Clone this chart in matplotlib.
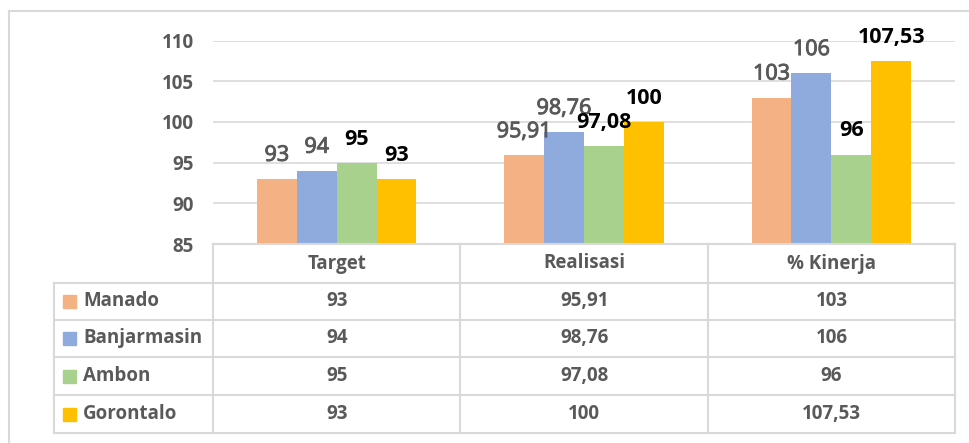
import matplotlib
matplotlib.use("Agg")
import matplotlib.pyplot as plt
import matplotlib.patheffects as pe
from matplotlib.patches import Rectangle
from matplotlib.lines import Line2D

categories = ["Target", "Realisasi", "% Kinerja"]
series_names = ["Manado", "Banjarmasin", "Ambon", "Gorontalo"]
manado = [93, 95.91, 103]
banjarmasin = [94, 98.76, 106]
ambon = [95, 97.08, 96]
gorontalo = [93, 100, 107.53]
series_values = [manado, banjarmasin, ambon, gorontalo]
colors = ["#F4B183", "#8FAADC", "#A9D18E", "#FFC000"]
label_colors = ["#595959", "#595959", "#000000", "#000000"]
y_ticks = [85, 90, 95, 100, 105, 110]


def fmt(v):
    if abs(v - round(v)) < 1e-9:
        return str(int(round(v)))
    return f"{v:.2f}".replace(".", ",")


W, H = 969, 443
plt.rcParams["font.family"] = ["Open Sans", "DejaVu Sans"]
fig = plt.figure(figsize=(W / 100, H / 100), dpi=100)

# outer border
fig.add_artist(Line2D([9 / W, 1], [1 - 11 / H, 1 - 11 / H], color="#d9d9d9", lw=1.5))
fig.add_artist(Line2D([9 / W, 9 / W], [0, 1 - 11 / H], color="#d9d9d9", lw=1.5))

# plot area
px_l, px_r, px_t, px_b = 213, 955, 40.6, 244
ax = fig.add_axes([px_l / W, 1 - px_b / H, (px_r - px_l) / W, (px_b - px_t) / H])
ax.set_xlim(0, len(categories))
ax.set_ylim(85, 110)
for s in ax.spines.values():
    s.set_visible(False)
ax.set_xticks([])
ax.set_yticks(y_ticks)
ax.tick_params(axis="y", length=0, pad=14, labelsize=13.5, labelcolor="#595959")
for t in ax.get_yticklabels():
    t.set_fontweight("bold")
ax.grid(axis="y", color="#d9d9d9", lw=1.2)
ax.set_axisbelow(True)

n = len(series_names)
group_w = 0.645
bw = group_w / n
for i, (vals, c, lc) in enumerate(zip(series_values, colors, label_colors)):
    xs = [k + 0.5 - group_w / 2 + bw * (i + 0.5) for k in range(len(categories))]
    ax.bar(xs, [v - 85 for v in vals], bottom=85, width=bw, color=c, zorder=2)
    for x, v in zip(xs, vals):
        bold = lc == "#000000"
        t = ax.annotate(fmt(v), (x, v), xytext=(0, 13), textcoords="offset points",
                        ha="center", va="baseline", fontsize=15.5,
                        color=lc, fontweight="bold" if bold else "normal",
                        annotation_clip=False, zorder=3)
        if not bold:
            t.set_path_effects([pe.withStroke(linewidth=0.7, foreground=lc)])

# data table
tab = fig.add_axes([0, 0, 1, 1])
tab.set_xlim(0, W)
tab.set_ylim(H, 0)
tab.axis("off")
lc = "#d9d9d9"
lw = 1.5
col_x = [213, 460.5, 708, 955]
row_y = [244, 283, 319.5, 357, 395, 433]
leg_l = 54
tab.plot([col_x[0], col_x[-1]], [row_y[0], row_y[0]], color=lc, lw=lw)
for y in row_y[1:]:
    tab.plot([leg_l, col_x[-1]], [y, y], color=lc, lw=lw)
for x in col_x:
    tab.plot([x, x], [row_y[0], row_y[-1]], color=lc, lw=lw)
tab.plot([leg_l, leg_l], [row_y[1], row_y[-1]], color=lc, lw=lw)

tcol = "#595959"
fs = 13.5
for j, cat in enumerate(categories):
    cx = (col_x[j] + col_x[j + 1]) / 2
    tab.text(cx, (row_y[0] + row_y[1]) / 2, cat, ha="center", va="center",
             fontsize=fs, color=tcol, fontweight="bold")
for i, name in enumerate(series_names):
    cy = (row_y[i + 1] + row_y[i + 2]) / 2
    tab.add_patch(Rectangle((63, cy - 6.5), 13, 13, color=colors[i]))
    tab.text(83, cy, name, ha="left", va="center", fontsize=fs, color=tcol,
             fontweight="bold")
    for j in range(len(categories)):
        cx = (col_x[j] + col_x[j + 1]) / 2
        tab.text(cx, cy, fmt(series_values[i][j]), ha="center", va="center",
                 fontsize=fs, color=tcol, fontweight="bold")

fig.savefig("out.png", dpi=100)
